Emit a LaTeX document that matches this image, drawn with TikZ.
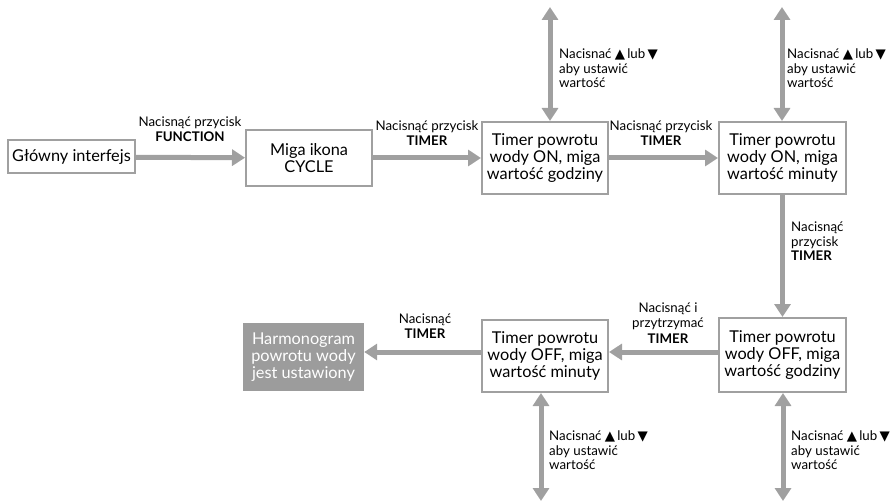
\documentclass[tikz,border=0pt]{standalone}
\usepackage{fontspec}
\setmainfont{Lato}
\newfontfamily\symfont[Scale=1.0]{DejaVu Sans}
\usetikzlibrary{arrows.meta}
\definecolor{flowgray}{HTML}{A0A0A0}
\definecolor{donegray}{HTML}{9C9C9C}
\newcommand{\upt}{{\symfont ▲}}
\newcommand{\dnt}{{\symfont ▼}}
\tikzset{
  stepbox/.style={draw=flowgray, line width=2pt, fill=white, align=center,
    font=\fontsize{16.3}{17}\selectfont, inner sep=0pt},
  donebox/.style={fill=donegray, text=white, align=center,
    font=\fontsize{16.3}{17}\selectfont, inner sep=0pt},
  flow/.style={draw=flowgray, line width=5pt,
    -{Triangle[width=16pt,length=13pt]}},
  both/.style={draw=flowgray, line width=5pt,
    {Triangle[width=16pt,length=13pt]}-{Triangle[width=16pt,length=13pt]}},
  lbl/.style={font=\fontsize{13.3}{15.5}\selectfont, inner sep=0pt, align=center},
  lbll/.style={font=\fontsize{13.3}{14.5}\selectfont, inner sep=0pt, align=left, anchor=north west},
}
\begin{document}
\begin{tikzpicture}[x=1pt,y=-1pt]
\useasboundingbox (0,0) rectangle (890,502);

% top row
\node[stepbox, minimum width=127pt, minimum height=33pt] (main) at (71.5,157) {Główny interfejs};
\node[stepbox, minimum width=126pt, minimum height=56pt] (cycle) at (309,158) {Miga ikona\\CYCLE};
\node[stepbox, minimum width=126pt, minimum height=72pt] (onh) at (545,158) {Timer powrotu\\wody ON, miga\\wartość godziny};
\node[stepbox, minimum width=127pt, minimum height=72pt] (onm) at (782.5,158) {Timer powrotu\\wody ON, miga\\wartość minuty};

% bottom row
\node[stepbox, minimum width=127pt, minimum height=74pt] (offh) at (782.5,355) {Timer powrotu\\wody OFF, miga\\wartość godziny};
\node[stepbox, minimum width=126pt, minimum height=72pt] (offm) at (545,356) {Timer powrotu\\wody OFF, miga\\wartość minuty};
\node[donebox, minimum width=121pt, minimum height=68pt] (done) at (303.5,357) {Harmonogram\\powrotu wody\\jest ustawiony};

% free ends of the value arrows
\coordinate (onhtop) at (550,7);
\coordinate (onmtop) at (782,7);
\coordinate (offmbot) at (541,501);
\coordinate (offhbot) at (783,501);

% connectors
\draw[flow] (main) -- (cycle);
\draw[flow] (cycle) -- (onh);
\draw[flow] (onh) -- (onm);
\draw[flow] (onm) -- (offh);
\draw[flow] (offh.west |- 0,352) -- (offm.east |- 0,352);
\draw[flow] (offm.west |- 0,352) -- (done.east |- 0,352);
\draw[both] (onhtop) -- (onh.north -| onhtop);
\draw[both] (onmtop) -- (onm.north -| onmtop);
\draw[both] (offm.south -| offmbot) -- (offmbot);
\draw[both] (offh.south -| offhbot) -- (offhbot);

% labels
\node[lbl] (l1) at (190,129) {Nacisnąć przycisk\\\textbf{FUNCTION}};
\node[lbl] (l2) at (427,133) {Nacisnąć przycisk\\\textbf{TIMER}};
\node[lbl] (l3) at (661,133) {Nacisnąć przycisk\\\textbf{TIMER}};
\node[lbll] (l4) at (791,222) {Nacisnąć\\przycisk\\\textbf{TIMER}};
\node[lbl] (l5) at (668,323) {Nacisnąć i\\przytrzymać\\\textbf{TIMER}};
\node[lbl] (l6) at (425,326) {Nacisnąć\\\textbf{TIMER}};
\node[lbll] (v1) at (559,49) {Nacisnać \upt\,lub\,\dnt\\aby ustawić\\wartość};
\node[lbll] (v2) at (787,49) {Nacisnać \upt\,lub\,\dnt\\aby ustawić\\wartość};
\node[lbll] (v3) at (549,431) {Nacisnać \upt\,lub\,\dnt\\aby ustawić\\wartość};
\node[lbll] (v4) at (791,431) {Nacisnać \upt\,lub\,\dnt\\aby ustawić\\wartość};
\end{tikzpicture}
\end{document}
